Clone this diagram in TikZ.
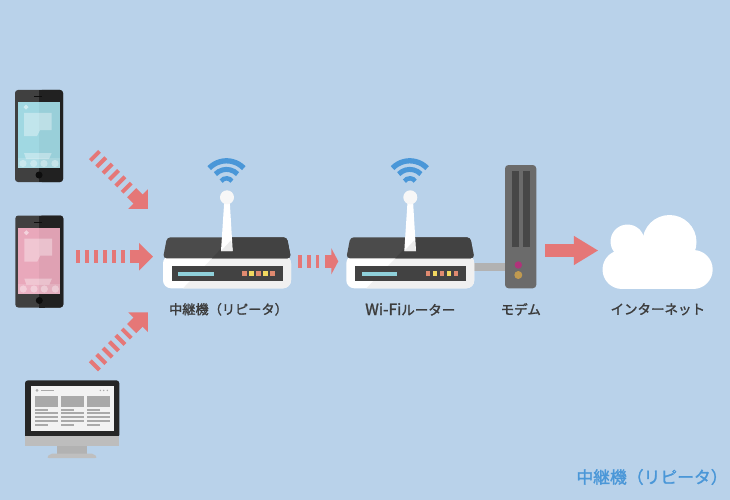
\documentclass[tikz,border=0pt]{standalone}
\usepackage{fontspec}
\usepackage{xcolor}
\usepackage{tikz}
\usetikzlibrary{arrows.meta}
\newfontfamily\jpfont[FakeBold=1.6]{Noto Sans CJK JP}
\definecolor{bgblue}{HTML}{B9D2EA}
\definecolor{arrowred}{HTML}{E57777}
\definecolor{wifiblue}{HTML}{4A97D8}
\definecolor{textdark}{HTML}{3C3C3C}
\definecolor{routerdark}{HTML}{424242}
\definecolor{screengray}{HTML}{A9A9A9}
\definecolor{ledred}{HTML}{E08A70}
\definecolor{ledyellow}{HTML}{F0D860}
\definecolor{barcyan}{HTML}{8FD0DA}
\definecolor{screencyan}{HTML}{A0D8E2}
\definecolor{screenpink}{HTML}{E9A8BB}
\definecolor{modemred}{HTML}{B0337A}
\definecolor{modemgold}{HTML}{C09A50}
\tikzset{
  dashline/.style={draw=arrowred,line width=13pt,dash pattern=on 4pt off 5pt},
  redstem/.style={draw=arrowred,line width=13pt,-{Triangle[length=14pt,width=27pt]}},
  wifiarc/.style={draw=wifiblue},
  devlabel/.style={font=\jpfont\fontsize{13.5}{16}\selectfont,text=textdark,inner sep=0pt},
  led/.style={minimum size=4.5pt,inner sep=0pt}
}
\newcommand{\phone}[3]{%
\begin{scope}[shift={(#1,#2)}]
\fill[black!75,rounded corners=3pt] (0,0) rectangle (48,92);
\fill[black!87,rounded corners=3pt] (24,0) rectangle (48,92);
\fill[black!87] (24,0) rectangle (30,92);
\fill[#3] (3,12) rectangle (45,78);
\fill[black,opacity=.04] (24,12) rectangle (45,78);
\fill[white,opacity=.35] (9,23) -- (36.7,23) -- (36.7,40) -- (25,40) -- (22,46) -- (9,46) -- cycle;
\fill[white,opacity=.35] (9,63) -- (36.7,63) -- (34,69) -- (11,69) -- cycle;
\fill[white,opacity=.15] (3,68) rectangle (45,78);
\foreach \cx in {8,18.7,29,40} \fill[white,opacity=.35] (\cx,73.5) circle (3.6pt);
\fill[white,opacity=.5] (11,14.7) -- (13.5,17.2) -- (11,19.7) -- (8.5,17.2) -- cycle;
\fill[black!95] (27,6) rectangle (19,7);
\fill[black!95] (24,85) circle (3.5pt);
\end{scope}}
\newcommand{\router}[2]{%
\begin{scope}[shift={(#1,#2)}]
\fill[white,rounded corners=8pt] (0,18) -- (128,18) -- (128,51) -- (0,51) -- cycle;
\begin{scope}
\clip[rounded corners=8pt] (0,18) -- (128,18) -- (128,51) -- (0,51) -- cycle;
\fill[black!6] (52,18) -- (128,18) -- (128,51) -- (20,51) -- cycle;
\end{scope}
\fill[routerdark!95!white,rounded corners=3.5pt] (4,0) -- (124,0) -- (128,21) -- (0,21) -- cycle;
\begin{scope}
\clip[rounded corners=3.5pt] (4,0) -- (124,0) -- (128,21) -- (0,21) -- cycle;
\fill[routerdark] (69,0) -- (128,0) -- (128,21) -- (49,21) -- cycle;
\end{scope}
\fill[routerdark] (9,29) rectangle (119.5,43.7);
\fill[barcyan] (15.3,34.2) rectangle (51,38.2);
\foreach \ln/\lx/\lc in {a/81.5/ledred,b/88.5/ledyellow,c/95.5/ledred,d/102.5/ledyellow,e/109.5/ledred}
  \node[led,fill=\lc] (led\ln) at (\lx,36.3) {};
\fill[white] (58,13.7) -- (61.5,-40) -- (66.5,-40) -- (69.7,13.7) -- cycle;
\fill[black!8] (69.7,13.7) -- (58,13.7) -- (68,3) -- cycle;
\fill[white!97!black] (64,-40) circle (7pt);
\coordinate (wc) at (63.5,-52.5);
\foreach \wr/\wd/\wa in {24/5.3/46,15.4/5/46,6.5/4.5/56}
  \draw[wifiarc,line width=\wd pt] ([shift={(90+\wa:\wr pt)}]wc) arc[start angle=90+\wa,end angle=90-\wa,radius=\wr pt];
\end{scope}}
\begin{document}
\begin{tikzpicture}[x=1pt,y=-1pt]
\fill[bgblue] (0,0) rectangle (730,500);
\useasboundingbox (0,0) rectangle (730,500);

\phone{15}{90}{screencyan}
\phone{15.3}{215.5}{screenpink}

\fill[black!85,rounded corners=3pt] (25,380.3) rectangle (119.3,438);
\fill[black!85] (25,395) rectangle (119.3,436);
\fill[gray!52] (25,436) rectangle (119.3,446);
\fill[gray!60] (57,446) rectangle (87,453.7);
\fill[gray!50,rounded corners=2pt] (46.7,458) -- (50,453.7) -- (94,453.7) -- (97.3,458) -- cycle;
\fill[black!5] (30.7,386.3) rectangle (113.7,430.7);
\fill[screengray] (37,390.4) circle (1.5pt);
\fill[screengray] (41,390) rectangle (54,391);
\foreach \dx in {100.3,103.7,107.3} \fill[screengray] (\dx,390.4) circle (.8pt);
\foreach \colx in {35.3,61.3,87} {
  \fill[screengray] (\colx,396) rectangle ++(23,10.7);
  \fill[screengray] (\colx,409) rectangle ++(13,1.7);
  \fill[screengray] (\colx,412.4) rectangle ++(23,1.7);
  \fill[screengray] (\colx,416) rectangle ++(23,1.7);
  \fill[screengray] (\colx,420) rectangle ++(23,1.7);
  \fill[screengray] (\colx,424) rectangle ++(13,1.7);
}

\coordinate (cablea) at (470,267);
\coordinate (cableb) at (506,267);
\draw[gray!60,line width=7.7pt] (cablea) -- (cableb);

\router{163}{237.3}
\router{346.3}{237.3}

\fill[black!58,rounded corners=3.5pt] (505,165) rectangle (536.3,288.3);
\fill[black!72] (512.3,171) rectangle (519.3,247.3);
\fill[black!72] (523,171) rectangle (530,247.3);
\fill[modemred] (518.3,265) circle (3.7pt);
\fill[modemgold] (518.3,275) circle (4pt);

\fill[white] (622,269.5) circle (19.5pt);
\fill[white] (693.2,269.5) circle (19.5pt);
\fill[white] (627.5,241.5) circle (17pt);
\fill[white] (669.5,242) circle (27pt);
\fill[white] (622,252) rectangle (693.2,289);
\fill[white] (630,245) rectangle (665,255);

\coordinate (topa) at (93.5,154.5);
\coordinate (topb) at (128.1,189.1);
\coordinate (topc) at (131.7,192.7);
\coordinate (topd) at (148,209);
\draw[dashline] (topa) -- (topb);
\draw[redstem] (topc) -- (topd);

\coordinate (mida) at (76,256.7);
\coordinate (midb) at (125,256.7);
\coordinate (midc) at (130,256.7);
\coordinate (midd) at (153,256.7);
\draw[dashline] (mida) -- (midb);
\draw[redstem] (midc) -- (midd);

\coordinate (lowa) at (93.5,366.8);
\coordinate (lowb) at (128.1,332.2);
\coordinate (lowc) at (131.7,328.6);
\coordinate (lowd) at (148,312.3);
\draw[dashline] (lowa) -- (lowb);
\draw[redstem] (lowc) -- (lowd);

\coordinate (linka) at (298.3,261.3);
\coordinate (linkb) at (319,261.3);
\coordinate (linkc) at (325.3,261.3);
\coordinate (linkd) at (338.3,261.3);
\draw[dashline] (linka) -- (linkb);
\draw[redstem,-{Triangle[length=7pt,width=26pt]}] (linkc) -- (linkd);

\coordinate (neta) at (545,250.5);
\coordinate (netb) at (598.3,250.5);
\draw[redstem,-{Triangle[length=24.5pt,width=27.5pt]}] (neta) -- (netb);

\node[devlabel,font=\jpfont\fontsize{13.2}{16}\selectfont] (repeater) at (228.5,309.3) {中継機（リピータ）};
\node[devlabel] (wifirouter) at (410.3,309.3) {{\fontsize{15.5}{16}\selectfont Wi-Fi}ルーター};
\node[devlabel] (modem) at (520.8,309.3) {モデム};
\node[devlabel] (internet) at (657.8,309.3) {インターネット};
\node[devlabel,text=wifiblue,font=\jpfont\fontsize{16.8}{20}\selectfont] (caption) at (652,477) {中継機（リピータ）};
\end{tikzpicture}
\end{document}
